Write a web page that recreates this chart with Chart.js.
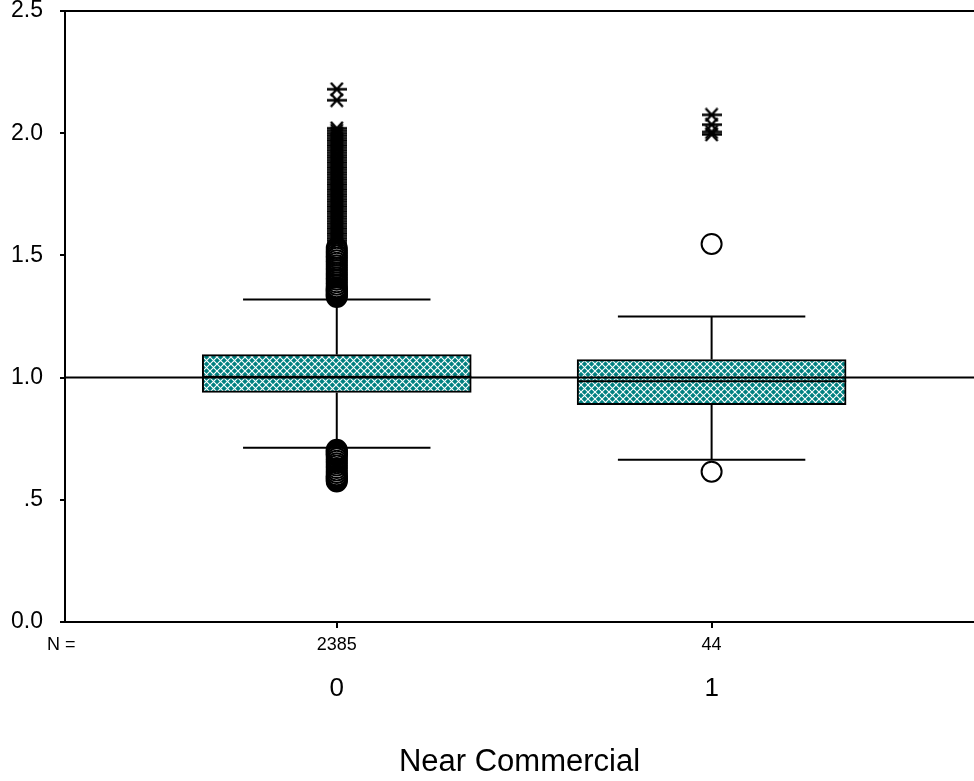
<!DOCTYPE html>
<html>
<head>
<meta charset="utf-8">
<script src="https://cdn.jsdelivr.net/npm/chart.js@4/dist/chart.umd.min.js"></script>
<style>
html, body { margin: 0; padding: 0; background: #fff; }
</style>
</head>
<body>
<canvas id="myChart" width="974" height="781"></canvas>
<script>
// boxplot data, one entry per group
var groups = [0, 1];
var groupLabels = ['0', '1'];
var counts = ['2385', '44'];
var q1 = [0.939, 0.889];
var median = [1.003, 0.985];
var q3 = [1.094, 1.074];
var whiskerLow = [0.713, 0.664];
var whiskerHigh = [1.320, 1.250];
// circles = outliers, asterisks = extremes
var outliers0 = [1.330, 1.335, 1.340, 1.345, 1.350, 1.355, 1.360, 1.365, 1.370, 1.380, 1.390,
    1.400, 1.410, 1.420, 1.430, 1.440, 1.450, 1.460, 1.470, 1.480, 1.490, 1.500, 1.510, 1.520, 1.530,
    0.705, 0.700, 0.695, 0.690, 0.685, 0.680, 0.670, 0.660, 0.650, 0.640, 0.630, 0.620, 0.610,
    0.600, 0.595, 0.590, 0.585, 0.580, 0.575];
var outliers1 = [1.547, 0.615];
var extremes0 = [2.180, 2.135, 2.020, 2.010, 2.000, 1.990, 1.980, 1.970, 1.960, 1.950, 1.940,
    1.930, 1.920, 1.910, 1.900, 1.890, 1.880, 1.870, 1.860, 1.850, 1.840, 1.830, 1.820, 1.810,
    1.800, 1.790, 1.780, 1.770, 1.760, 1.750, 1.740, 1.730, 1.720, 1.710, 1.700, 1.690, 1.680,
    1.670, 1.660, 1.650, 1.640, 1.630, 1.620, 1.610, 1.600, 1.590, 1.580, 1.570, 1.560, 1.550];
var extremes1 = [2.075, 2.035, 2.005, 1.995];
var yTicks = [0, 0.5, 1, 1.5, 2, 2.5];
var yTickLabels = ['0.0', '.5', '1.0', '1.5', '2.0', '2.5'];
var refValue = 1.0;

var FONT = '"Liberation Sans", Arial, sans-serif';
var xMin = -0.725, xMax = 1.7;
var capHalf = 0.25, boxHalf = 0.359;

var ctx = document.getElementById('myChart').getContext('2d');

// teal cross-hatch fill
var hatch = document.createElement('canvas');
hatch.width = 7; hatch.height = 7;
var hc = hatch.getContext('2d');
hc.fillStyle = '#008080';
hc.fillRect(0, 0, 7, 7);
hc.strokeStyle = '#ffffff';
hc.lineWidth = 1.1;
hc.beginPath();
hc.moveTo(-1, -1); hc.lineTo(8, 8);
hc.moveTo(8, -1); hc.lineTo(-1, 8);
hc.stroke();
var hatchFill = ctx.createPattern(hatch, 'repeat');

// SPSS style asterisk marker
var star = document.createElement('canvas');
star.width = 20; star.height = 15;
var sc = star.getContext('2d');
sc.strokeStyle = '#000';
sc.lineWidth = 2.4;
sc.beginPath();
sc.moveTo(0, 7.5); sc.lineTo(20, 7.5);
sc.moveTo(4, 1); sc.lineTo(16, 14);
sc.moveTo(16, 1); sc.lineTo(4, 14);
sc.stroke();

function seg(x1, y1, x2, y2, order) {
    return {
        type: 'line',
        data: [{x: x1, y: y1}, {x: x2, y: y2}],
        borderColor: '#000',
        borderWidth: 2,
        pointRadius: 0,
        pointHoverRadius: 0,
        fill: false,
        order: order
    };
}

var datasets = [];
// reference line at 1.0, on top of everything
datasets.push(seg(xMin, refValue, xMax, refValue, 0));

groups.forEach(function(g, i) {
    datasets.push(seg(g - boxHalf, median[i], g + boxHalf, median[i], 1));
    datasets.push(seg(g, q3[i], g, whiskerHigh[i], 2));
    datasets.push(seg(g, whiskerLow[i], g, q1[i], 2));
    datasets.push(seg(g - capHalf, whiskerHigh[i], g + capHalf, whiskerHigh[i], 2));
    datasets.push(seg(g - capHalf, whiskerLow[i], g + capHalf, whiskerLow[i], 2));
});

datasets.push({
    type: 'bar',
    data: groups.map(function(g, i) { return {x: g, y: [q1[i], q3[i]]}; }),
    backgroundColor: hatchFill,
    borderColor: '#000',
    borderWidth: 2,
    borderSkipped: false,
    barThickness: 269,
    order: 3
});

[outliers0, outliers1].forEach(function(vals, i) {
    datasets.push({
        type: 'scatter',
        data: vals.map(function(v) { return {x: groups[i], y: v}; }),
        pointStyle: 'circle',
        pointRadius: 10,
        borderColor: '#000',
        borderWidth: 2,
        backgroundColor: 'rgba(0,0,0,0)',
        order: 4
    });
});
[extremes0, extremes1].forEach(function(vals, i) {
    datasets.push({
        type: 'scatter',
        data: vals.map(function(v) { return {x: groups[i], y: v}; }),
        pointStyle: star,
        order: 4
    });
});

// "N =" row under the axis
var nRow = {
    id: 'nRow',
    afterDraw: function(chart) {
        var c = chart.ctx, xs = chart.scales.x;
        c.save();
        c.font = '18px ' + FONT;
        c.fillStyle = '#000';
        c.textBaseline = 'middle';
        c.textAlign = 'left';
        c.fillText('N =', 47, 645);
        c.textAlign = 'center';
        groups.forEach(function(g, i) {
            c.fillText(counts[i], xs.getPixelForValue(g), 645);
        });
        c.restore();
    }
};

var myChart = new Chart(ctx, {
    type: 'scatter',
    data: { datasets: datasets },
    plugins: [nRow],
    options: {
        responsive: false,
        animation: false,
        layout: { autoPadding: false, padding: { top: 11, right: 0, bottom: 0, left: 0 } },
        plugins: {
            legend: { display: false },
            tooltip: { enabled: false }
        },
        scales: {
            x: {
                type: 'linear',
                min: xMin,
                max: xMax,
                offset: false,
                afterBuildTicks: function(s) {
                    s.ticks = groups.map(function(v) { return {value: v}; });
                },
                afterFit: function(s) {
                    s.height = 159;
                    s.paddingLeft = 0;
                    s.paddingRight = 0;
                },
                ticks: {
                    callback: function(v) { return groupLabels[groups.indexOf(v)]; },
                    font: { family: FONT, size: 26 },
                    color: '#000',
                    padding: 45,
                    maxRotation: 0,
                    autoSkip: false
                },
                grid: { drawOnChartArea: false, offset: false, tickLength: 6, tickColor: '#000', lineWidth: 2 },
                border: { display: true, color: '#000', width: 2 },
                title: {
                    display: true,
                    text: 'Near Commercial',
                    font: { family: FONT, size: 31 },
                    color: '#000',
                    padding: 0
                }
            },
            y: {
                min: 0,
                max: 2.5,
                afterBuildTicks: function(s) {
                    s.ticks = yTicks.map(function(v) { return {value: v}; });
                },
                afterFit: function(s) {
                    s.width = 65;
                    s.paddingTop = 0;
                    s.paddingBottom = 0;
                },
                ticks: {
                    callback: function(v) { return yTickLabels[yTicks.indexOf(v)]; },
                    font: { family: FONT, size: 23 },
                    color: '#000',
                    padding: 17
                },
                grid: {
                    color: function(c) { return c.tick && c.tick.value === 2.5 ? '#000' : 'rgba(0,0,0,0)'; },
                    lineWidth: 2,
                    tickLength: 5,
                    tickColor: '#000'
                },
                border: { color: '#000', width: 2 }
            }
        }
    }
});
</script>
</body>
</html>
